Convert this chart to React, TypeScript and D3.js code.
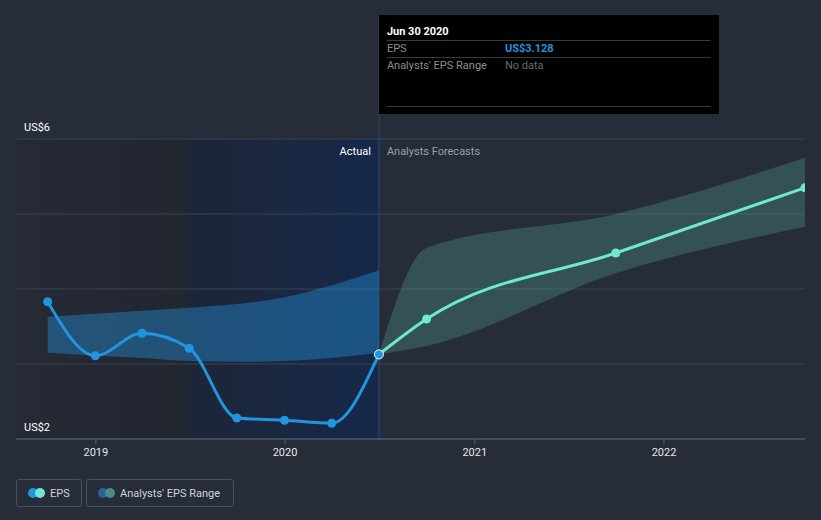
import React from "react";
import * as d3 from "d3";

const epsDates = ["2018-09-30", "2018-12-31", "2019-03-31", "2019-06-30", "2019-09-30", "2019-12-31", "2020-03-31", "2020-06-30"];
const epsValues = [3.83, 3.11, 3.41, 3.21, 2.28, 2.25, 2.21, 3.128];

const pastRangeHigh = [3.63, 3.67, 3.71, 3.75, 3.8, 3.89, 4.05, 4.25];
const pastRangeLow = [3.15, 3.11, 3.08, 3.04, 3.03, 3.04, 3.08, 3.15];

const fcDates = ["2020-06-30", "2020-09-30", "2021-09-30", "2022-09-30"];
const fcValues = [3.128, 3.6, 4.48, 5.35];
const fcHigh = [3.128, 4.55, 5.0, 5.75];
const fcLow = [3.128, 3.24, 4.21, 4.83];

const xTicks = ["2019", "2020", "2021", "2022"];
const yTicks = [2, 3, 4, 5, 6];
const yLabels = ["US$2", "US$6"];

const W = 821;
const H = 520;
const X0 = 16;
const X1 = 805;

export default function App() {
  const p = d3.timeParse("%Y-%m-%d");
  const x = d3
    .scaleTime()
    .domain([p("2018-07-31")!, p("2022-09-30")!])
    .range([X0, X1]);
  const y = d3.scaleLinear().domain([2, 6]).range([439, 139]);

  const eps = epsDates.map((d, i) => ({ d: p(d)!, v: epsValues[i], hi: pastRangeHigh[i], lo: pastRangeLow[i] }));
  const fc = fcDates.map((d, i) => ({ d: p(d)!, v: fcValues[i], hi: fcHigh[i], lo: fcLow[i] }));

  const line = d3
    .line<any>()
    .x((d) => x(d.d))
    .y((d) => y(d.v))
    .curve(d3.curveMonotoneX);
  const area = d3
    .area<any>()
    .x((d) => x(d.d))
    .y0((d) => y(d.lo))
    .y1((d) => y(d.hi))
    .curve(d3.curveMonotoneX);

  const xNow = x(p("2020-06-30")!);
  const xYearAgo = x(p("2019-06-30")!);
  const font = "Roboto, 'Noto Sans', sans-serif";

  return (
    <svg width={W} height={H} style={{ position: "absolute", left: 0, top: 0, display: "block" }} fontFamily={font}>
      <defs>
        <linearGradient id="leftGrad" x1="0" x2="1" y1="0" y2="0">
          <stop offset="0" stopColor="#252a35" />
          <stop offset="1" stopColor="#21262f" />
        </linearGradient>
        <linearGradient id="blueGrad" x1="0" x2="1" y1="0" y2="0">
          <stop offset="0" stopColor="#1d2638" />
          <stop offset="1" stopColor="#16294a" />
        </linearGradient>
        <clipPath id="plotClip">
          <rect x={X0} y={0} width={X1 - X0} height={440} />
        </clipPath>
      </defs>
      <rect x={0} y={0} width={W} height={H} fill="#262c38" />
      <rect x={X0} y={139} width={xYearAgo - X0} height={300} fill="url(#leftGrad)" />
      <rect x={xYearAgo} y={139} width={xNow - xYearAgo} height={300} fill="url(#blueGrad)" />

      {yTicks.map((t) => (
        <line key={t} x1={X0} x2={X1} y1={y(t)} y2={y(t)} stroke="#3c4350" strokeWidth={1} />
      ))}

      <line x1={xNow} x2={xNow} y1={15} y2={439} stroke="#234a7a" strokeWidth={1} />

      <g clipPath="url(#plotClip)">
        <path d={area(eps)!} fill="#2394df" fillOpacity={0.4} />
        <path d={area(fc)!} fill="#6ee7d3" fillOpacity={0.2} />
        <path d={line(eps)!} fill="none" stroke="#2394df" strokeWidth={3} />
        <path d={line(fc)!} fill="none" stroke="#6ee7d3" strokeWidth={3} />
        {eps.slice(0, -1).map((d, i) => (
          <circle key={i} cx={x(d.d)} cy={y(d.v)} r={4.5} fill="#2394df" />
        ))}
        {fc.slice(1).map((d, i) => (
          <circle key={i} cx={x(d.d)} cy={y(d.v)} r={4.5} fill="#6ee7d3" />
        ))}
        <circle cx={x(eps[eps.length - 1].d)} cy={y(eps[eps.length - 1].v)} r={4.5} fill="#2394df" stroke="#ffffff" strokeWidth={1} />
      </g>

      <line x1={X0} x2={X1} y1={439} y2={439} stroke="#5b616d" strokeWidth={1} />
      {xTicks.map((t) => {
        const xx = x(p(`${t}-01-01`)!);
        return (
          <g key={t}>
            <line x1={xx} x2={xx} y1={439} y2={444} stroke="#5b616d" />
            <text x={xx} y={456} fill="#e6e6e6" fontSize={11} textAnchor="middle">
              {t}
            </text>
          </g>
        );
      })}

      <text x={24} y={131} fill="#ffffff" fontSize={11}>
        {yLabels[1]}
      </text>
      <text x={24} y={431} fill="#ffffff" fontSize={11}>
        {yLabels[0]}
      </text>

      <text x={xNow - 8} y={155} fill="#ffffff" fontSize={11} textAnchor="end">
        Actual
      </text>
      <text x={xNow + 8} y={155} fill="#9aa0a8" fontSize={11}>
        Analysts Forecasts
      </text>

      <g>
        <rect x={xNow} y={15} width={340} height={99} fill="#000000" />
        <text x={xNow + 8} y={35} fill="#ffffff" fontSize={11} fontWeight="bold">
          Jun 30 2020
        </text>
        <line x1={xNow + 8} x2={xNow + 332} y1={40.5} y2={40.5} stroke="#3a3a3a" />
        <text x={xNow + 8} y={52} fill="#8d8d8d" fontSize={11}>
          EPS
        </text>
        <text x={xNow + 126} y={52} fill="#2394df" fontSize={11} fontWeight="bold">
          US$3.128
        </text>
        <line x1={xNow + 8} x2={xNow + 332} y1={57.5} y2={57.5} stroke="#3a3a3a" />
        <text x={xNow + 8} y={69} fill="#8d8d8d" fontSize={11}>
          Analysts' EPS Range
        </text>
        <text x={xNow + 126} y={69} fill="#6b6b6b" fontSize={11}>
          No data
        </text>
        <line x1={xNow + 8} x2={xNow + 332} y1={106.5} y2={106.5} stroke="#3a3a3a" />
      </g>

      <g>
        <rect x={16.5} y={479.5} width={65} height={27} rx={2} fill="none" stroke="#4a505c" />
        <circle cx={33} cy={493} r={5} fill="#2394df" />
        <circle cx={40} cy={493} r={5} fill="#6ee7d3" />
        <text x={50} y={497} fill="#d0d3d8" fontSize={11}>
          EPS
        </text>
        <rect x={86.5} y={479.5} width={147} height={27} rx={2} fill="none" stroke="#4a505c" />
        <circle cx={103} cy={493} r={5} fill="#2c6392" />
        <circle cx={110} cy={493} r={5} fill="#4a8b89" />
        <text x={120} y={497} fill="#d0d3d8" fontSize={11}>
          Analysts' EPS Range
        </text>
      </g>
    </svg>
  );
}
